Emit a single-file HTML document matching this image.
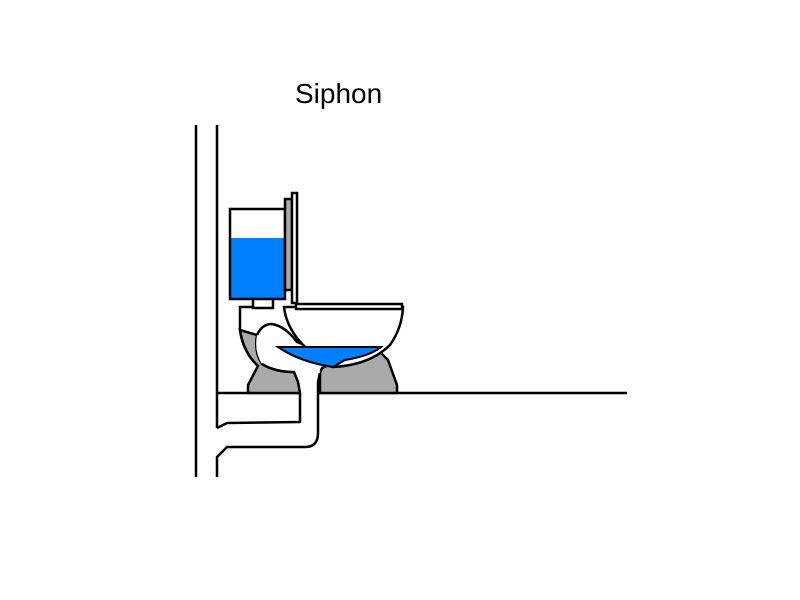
<!DOCTYPE html>
<html><head><meta charset="utf-8"><style>
html,body{margin:0;padding:0;background:#fff;width:800px;height:600px;overflow:hidden}
svg{display:block}
</style></head><body>
<svg width="800" height="600" viewBox="0 0 800 600" xmlns="http://www.w3.org/2000/svg">
<rect width="800" height="600" fill="#fff"/>
<text x="295" y="103" font-family="Liberation Sans, sans-serif" font-size="28" fill="#000">Siphon</text>
<g stroke="#000" stroke-width="2.5" fill="none" stroke-linejoin="round">
<line x1="196" y1="125" x2="196" y2="477"/>
<line x1="217" y1="125" x2="217" y2="428"/>
<line x1="217" y1="393" x2="300" y2="393"/>
<line x1="318" y1="393" x2="627" y2="393"/>
<path d="M300,393 L300,422 L227,423 L217,428"/>
<path d="M318,393 L318,433 Q318,447 305,447 L227,447 L217,457 L217,477"/>
</g>
<!-- gray pedestal left (incl. region left of trap) -->
<path d="M240,330 Q243,352 258,366 L248,385 L248,393 L300,393 L300,385 L294,372 Q275,372 262,364 Q254,352 257,335 Z" fill="#aaa" stroke="#000" stroke-width="2.5"/>
<path d="M320,373 L322,368 L345,358 L380,352 L388,360 L397,385 L397,393 L320,393 Z" fill="#aaa" stroke="#000" stroke-width="2.5"/>
<!-- body outline left -->
<path d="M253,307 L240,307 L240,330 Q243,352 258,366" fill="none" stroke="#000" stroke-width="2.5"/>
<!-- trap white tube -->
<path d="M257,335 Q262,324 272,324 Q285,326 297,342 L318,350 L320,373 L318,393 L300,393 L298,382 L294,372 Q275,372 262,364 Q254,352 257,335 Z" fill="#fff" stroke="none"/>
<path d="M257,335 Q262,324 272,324 Q285,326 297,342 L318,350" fill="none" stroke="#000" stroke-width="2.5"/>
<path d="M262,364 Q275,372 294,372 L298,382 L300,393" fill="none" stroke="#000" stroke-width="2.5"/>
<path d="M320,373 L318,382 L318,393" fill="none" stroke="#000" stroke-width="2.5"/>
<!-- bowl -->
<path d="M284,307 Q288,342 333,367 Q370,365 390,345 Q402,328 403,307 Z" fill="#fff" stroke="#000" stroke-width="2.5"/>
<path d="M278,347 L381,347 Q370,356 345,360 L333,367 Q300,362 278,347 Z" fill="#0080ff" stroke="#000" stroke-width="2"/>
<rect x="296" y="304" width="106" height="5" fill="#fff" stroke="#000" stroke-width="2.5"/>
<rect x="253" y="298" width="20" height="10" fill="#fff" stroke="#000" stroke-width="2.5"/>
<rect x="230" y="209" width="55" height="90" fill="#fff"/>
<rect x="231" y="238" width="53" height="60" fill="#0080ff"/>
<rect x="230" y="209" width="55" height="90" fill="none" stroke="#000" stroke-width="2.5"/>
<rect x="285" y="199" width="7" height="91" fill="#aaa" stroke="#000" stroke-width="2.5"/>
<rect x="292" y="193" width="5" height="110" fill="#fff" stroke="#000" stroke-width="2.5"/>
</svg>
</body></html>
